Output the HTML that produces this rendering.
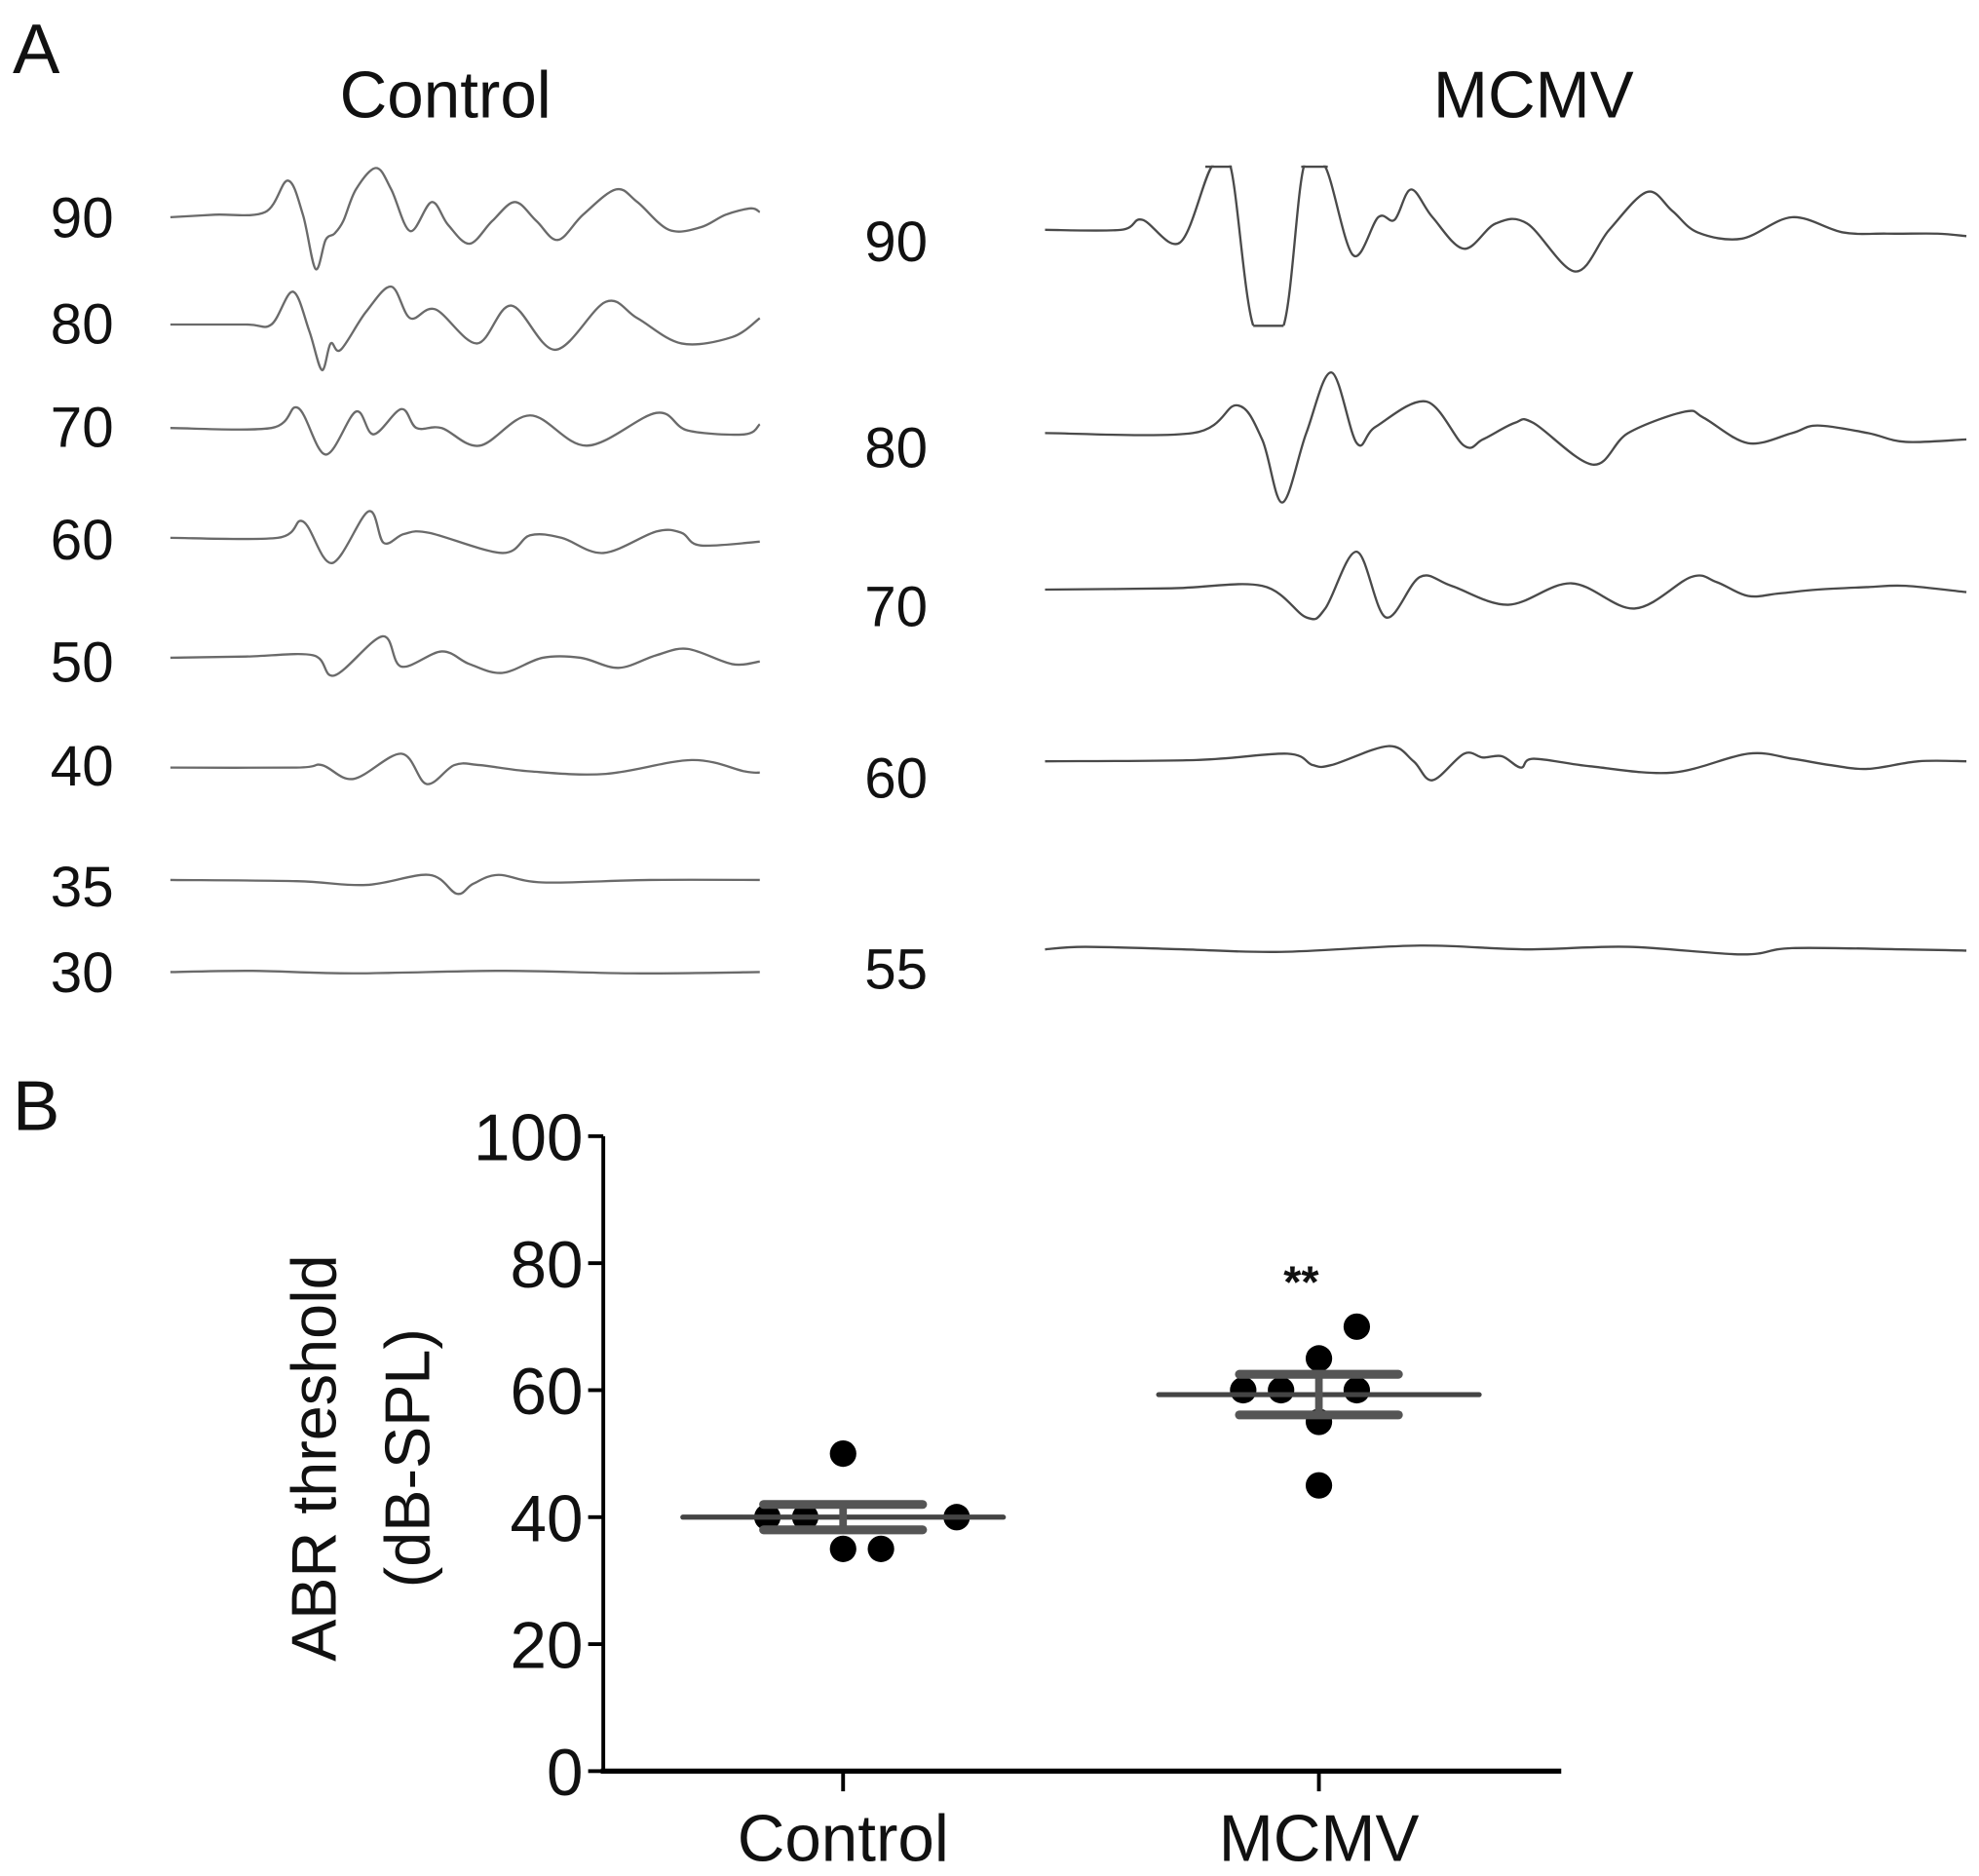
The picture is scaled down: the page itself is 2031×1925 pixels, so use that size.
<!DOCTYPE html>
<html><head><meta charset="utf-8"><style>
html,body{margin:0;padding:0;background:#fff}
svg{display:block}
text{font-family:"Liberation Sans",sans-serif;fill:#111}
</style></head><body>
<svg id="fig" width="2031" height="1925" viewBox="0 0 1568 1486" xmlns="http://www.w3.org/2000/svg">
<defs><clipPath id="clip90"><rect x="820" y="131" width="760" height="127"/></clipPath></defs>
<text x="10" y="58" font-size="56">A</text>
<text x="353" y="93" font-size="52" text-anchor="middle">Control</text>
<text x="1215" y="93" font-size="52" text-anchor="middle">MCMV</text>
<g id="traces"></g>
<text x="10" y="895" font-size="56">B</text>
<g id="chartB"></g>
</svg>
<script>
// ---------- Panel A data: [sample, amplitude] keypoints ----------
const ctrlLevels = ["90","80","70","60","50","40","35","30"];
const ctrl90 = [[0,0],[35,2],[75,4],[93,29],[105,2],[115,-41],[123,-18],[130,-13],[137,-3],[147,22],[163,39],[175,22],[190,-11],[207,12],[220,-6],[237,-21],[255,-3],[273,12],[290,-3],[307,-18],[327,2],[353,22],[370,12],[395,-10],[420,-8],[440,2],[460,7],[467,4]];
const ctrl80 = [[0,0],[60,0],[80,0],[97,26],[110,-5],[120,-36],[127,-15],[135,-20],[155,10],[175,30],[190,5],[210,12],[243,-15],[270,15],[305,-20],[345,18],[370,5],[405,-15],[445,-10],[467,5]];
const ctrl70 = [[0,0],[80,0],[101,16],[123,-21],[147,13],[161,-5],[183,15],[195,0],[215,0],[245,-14],[285,10],[330,-14],[385,12],[410,-2],[455,-5],[467,3]];
const ctrl60 = [[0,0],[85,0],[105,13],[128,-20],[157,21],[169,-4],[185,3],[205,4],[263,-12],[285,2],[310,0],[343,-12],[385,5],[405,4],[420,-6],[467,-3]];
const ctrl50 = [[0,0],[60,1],[113,2],[130,-14],[168,17],[183,-7],[215,5],[237,-5],[263,-12],[295,0],[325,0],[355,-8],[385,2],[410,7],[445,-5],[467,-3]];
const ctrl40 = [[0,0],[100,0],[120,2],[145,-9],[183,11],[203,-13],[225,2],[245,2],[285,-3],[345,-5],[413,6],[455,-3],[467,-4]];
const ctrl35 = [[0,0],[100,-1],[155,-4],[205,4],[227,-11],[240,-3],[260,4],[295,-2],[380,0],[467,0]];
const ctrl30 = [[0,0],[65,1],[145,-1],[265,1],[365,-1],[467,0]];
const ctrlTraces = [ctrl90,ctrl80,ctrl70,ctrl60,ctrl50,ctrl40,ctrl35,ctrl30];

const mcmvLevels = ["90","80","70","60","55"];
const mcmv90 = [[0,0],[60,0],[77,8],[107,-10],[132,50],[147,50],[165,-76],[189,-76],[205,50],[222,50],[244,-20],[264,10],[277,8],[290,32],[307,10],[332,-15],[357,5],[382,5],[420,-33],[447,0],[477,30],[497,15],[517,-2],[552,-7],[592,10],[632,-2],[667,-3],[707,-3],[730,-5]];
const mcmv80 = [[0,0],[117,0],[152,22],[172,-5],[188,-55],[207,0],[227,48],[247,-8],[262,5],[302,25],[332,-10],[347,-5],[372,8],[387,8],[434,-25],[462,0],[507,17],[522,12],[557,-8],[592,0],[612,6],[652,0],[682,-7],[730,-5]];
const mcmv70 = [[0,0],[100,1],[172,3],[207,-22],[222,-15],[247,30],[270,-22],[297,10],[322,3],[367,-12],[417,5],[467,-15],[512,10],[532,6],[557,-5],[582,-3],[612,0],[652,2],[682,3],[730,-2]];
const mcmv60 = [[0,0],[120,1],[192,6],[212,-3],[227,-3],[272,12],[292,0],[307,-15],[332,6],[347,3],[362,4],[377,-5],[387,2],[432,-4],[497,-9],[557,6],[592,2],[622,-3],[652,-6],[692,0],[730,0]];
const mcmv55 = [[0,0],[32,2],[110,0],[187,-2],[297,3],[380,0],[462,2],[552,-4],[592,1],[680,0],[730,-1]];
const mcmvTraces = [mcmv90,mcmv80,mcmv70,mcmv60,mcmv55];

// ---------- Panel B data ----------
const groups = ["Control","MCMV"];
const controlValues = [50,40,40,40,35,35];
const controlJitter = [0,-2,-1,3,0,1];
const mcmvValues = [70,65,60,60,60,55,45];
const mcmvJitter = [1,0,-2,-1,1,0,0];
const groupMeans = [40,59.3];
const groupSem = [2,3.2];
const yTicks = [0,20,40,60,80,100];

const NS="http://www.w3.org/2000/svg";
function mk(tag,attrs,parent){const e=document.createElementNS(NS,tag);for(const k in attrs)e.setAttribute(k,attrs[k]);parent.appendChild(e);return e;}
function smooth(P){
  let d='M'+P[0][0].toFixed(1)+','+P[0][1].toFixed(1);
  for(let i=0;i<P.length-1;i++){
    const p0=P[Math.max(0,i-1)],p1=P[i],p2=P[i+1],p3=P[Math.min(P.length-1,i+2)];
    const c1x=p1[0]+(p2[0]-p0[0])/6,c1y=p1[1]+(p2[1]-p0[1])/6;
    const c2x=p2[0]-(p3[0]-p1[0])/6,c2y=p2[1]-(p3[1]-p1[1])/6;
    d+=' C'+c1x.toFixed(1)+','+c1y.toFixed(1)+' '+c2x.toFixed(1)+','+c2y.toFixed(1)+' '+p2[0].toFixed(1)+','+p2[1].toFixed(1);
  }
  return d;
}

const tg=document.getElementById('traces');
const ctrlBase=[172,257,339,426,521,608,697,770];
const mcmvBase=[182,343,467,603,752];
const ctrlLabelY=[188,272,354,443,540,622,718,786];
const mcmvLabelY=[207,370,496,632,783];
function drawTraces(traces,levels,base,labY,x0,labX,color,prefix){
  traces.forEach((tr,i)=>{
    const P=tr.map(p=>[x0+p[0],base[i]-p[1]]);
    const pl=mk('path',{d:smooth(P),fill:'none',stroke:color,'stroke-width':1.8,'stroke-linejoin':'round'},tg);
    if(prefix==='mcmv' && i===0){
      pl.setAttribute('clip-path','url(#clip90)');
      // amplifier clipping: flat segments at saturation limits
      const top=mk('path',{d:'M955,132 H976 M1031,132 H1052 M993,258 H1017',fill:'none',stroke:color,'stroke-width':1.8},tg);
      
      
    }
    
    
    const t=mk('text',{x:labX,y:labY[i],'font-size':45},tg);
    t.textContent=levels[i];
    
    
  });
}
drawTraces(ctrlTraces,ctrlLevels,ctrlBase,ctrlLabelY,135,40,'#6a6a6a','control');
drawTraces(mcmvTraces,mcmvLevels,mcmvBase,mcmvLabelY,828,685,'#4a4a4a','mcmv');

// Panel B
const g=document.getElementById('chartB');
const y0=1403,y100=900,axX=478;
const yS=v=>y0-(v/100)*(y0-y100);
const xC=[668,1045];
const jitterW=30;
let e=mk('line',{x1:axX,y1:y100,x2:axX,y2:y0,stroke:'#000','stroke-width':3},g);

e=mk('line',{x1:axX-2,y1:y0,x2:1237,y2:y0,stroke:'#000','stroke-width':4},g);

yTicks.forEach(v=>{
  const l=mk('line',{x1:axX-12,y1:yS(v),x2:axX,y2:yS(v),stroke:'#000','stroke-width':3},g);
  
  
  const t=mk('text',{x:axX-16,y:yS(v)+19,'font-size':52,'text-anchor':'end'},g);
  t.textContent=v;
  
  
});
groups.forEach((gr,i)=>{
  const l=mk('line',{x1:xC[i],y1:y0,x2:xC[i],y2:y0+16,stroke:'#000','stroke-width':3},g);
  
  
  const t=mk('text',{x:xC[i],y:1474,'font-size':52,'text-anchor':'middle'},g);
  t.textContent=gr;
  
  
});
const yl=mk('text',{transform:'translate(266,1155) rotate(-90)','font-size':50,'text-anchor':'middle'},g);
yl.textContent='ABR threshold';


const yl2=mk('text',{transform:'translate(340,1155) rotate(-90)','font-size':50,'text-anchor':'middle'},g);
yl2.textContent='(dB-SPL)';



const allVals=[controlValues,mcmvValues],allJit=[controlJitter,mcmvJitter];
allVals.forEach((vals,i)=>{
  vals.forEach((v,j)=>{
    const c=mk('circle',{cx:xC[i]+allJit[i][j]*jitterW,cy:yS(v),r:10.5,fill:'#000'},g);
    
    
  });
  const m=groupMeans[i],s=groupSem[i];
  const ml=mk('line',{x1:xC[i]-127,y1:yS(m),x2:xC[i]+127,y2:yS(m),stroke:'#444','stroke-width':4,'stroke-linecap':'round'},g);
  
  
  const vl=mk('line',{x1:xC[i],y1:yS(m+s),x2:xC[i],y2:yS(m-s),stroke:'#555','stroke-width':6},g);
  
  
  [m+s,m-s].forEach(b=>{
    const cl=mk('line',{x1:xC[i]-63,y1:yS(b),x2:xC[i]+63,y2:yS(b),stroke:'#555','stroke-width':7,'stroke-linecap':'round'},g);
    
    
  });
});
const st=mk('text',{x:1031,y:1028,'font-size':36,'text-anchor':'middle','font-weight':'bold'},g);
st.textContent='**';


</script>
</body></html>
